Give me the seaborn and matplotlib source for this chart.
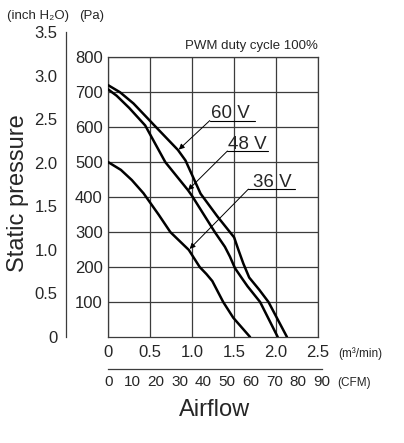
import numpy as np
import pandas as pd
import matplotlib.pyplot as plt
import seaborn as sns

# -- P-Q curves (airflow in m3/min, static pressure in Pa)
flow_60v = [0, 0.14, 0.30, 0.55, 0.83, 0.92, 1.10, 1.30, 1.45, 1.50, 1.55, 1.61, 1.68, 1.80, 1.91, 2.13]
pres_60v = [720, 700, 668, 605, 535, 505, 410, 345, 300, 285, 250, 210, 170, 135, 100, 0]

flow_48v = [0, 0.10, 0.25, 0.44, 0.68, 0.95, 1.00, 1.27, 1.39, 1.45, 1.51, 1.59, 1.66, 1.81, 2.02]
pres_48v = [708, 690, 655, 605, 500, 420, 403, 300, 258, 230, 197, 169, 145, 100, 0]

flow_36v = [0, 0.15, 0.28, 0.42, 0.60, 0.74, 0.96, 1.09, 1.17, 1.24, 1.37, 1.49, 1.69]
pres_36v = [500, 478, 449, 411, 350, 300, 249, 200, 180, 160, 100, 55, 0]

voltages = ["60 V", "48 V", "36 V"]

# tick labels
flow_ticks = [0, 0.5, 1.0, 1.5, 2.0, 2.5]
flow_labels = ["0", "0.5", "1.0", "1.5", "2.0", "2.5"]
pa_ticks = [100, 200, 300, 400, 500, 600, 700, 800]
inch_ticks = [0, 0.5, 1.0, 1.5, 2.0, 2.5, 3.0, 3.5]
inch_labels = ["0", "0.5", "1.0", "1.5", "2.0", "2.5", "3.0", "3.5"]
cfm_ticks = [0, 10, 20, 30, 40, 50, 60, 70, 80, 90]

PA_PER_INH2O = 249.089
CFM_PER_M3MIN = 35.3147

# callouts: (text x, text y, underline end x, arrow start (x, y), arrow tip (x, y))
callouts = {
    "60 V": (1.45, 625, 1.75, (1.21, 619), (0.84, 536)),
    "48 V": (1.66, 538, 1.90, (1.42, 532), (0.95, 420)),
    "36 V": (1.96, 429, 2.23, (1.67, 423), (0.97, 252)),
}

sns.set_style("white")
REG = ["Liberation Sans", "DejaVu Sans"]
plt.rcParams["font.family"] = REG
TICK_FS = 12

df = pd.concat([
    pd.DataFrame({"flow": f, "pressure": p, "voltage": v})
    for f, p, v in zip([flow_60v, flow_48v, flow_36v],
                       [pres_60v, pres_48v, pres_36v], voltages)
])

W, H = 404, 443
fig = plt.figure(figsize=(W / 100, H / 100), dpi=100)

# -- main grid (Pa vs m3/min)
left, bottom = 108.3 / W, (H - 337) / H
width, height = 209.7 / W, 279.7 / H
ax = fig.add_axes([left, bottom, width, height])

grid_col = "#3c3c3c"
for v in voltages:
    sns.lineplot(data=df[df["voltage"] == v], x="flow", y="pressure", sort=False,
                 color="black", lw=1.8, ax=ax, zorder=3)

ax.set_xlim(0, 2.5)
ax.set_ylim(0, 800)
ax.set_xticks(flow_ticks)
ax.set_xticklabels(flow_labels, fontsize=TICK_FS)
ax.set_yticks(pa_ticks)
ax.set_yticklabels([str(t) for t in pa_ticks], fontsize=TICK_FS)
ax.tick_params(axis="x", length=0, pad=6)
ax.tick_params(axis="y", length=2, width=0.8, color=grid_col, pad=2, direction="out")
ax.set_xlabel("")
ax.set_ylabel("")
ax.grid(True, color=grid_col, lw=0.9)
for s in ax.spines.values():
    s.set_visible(True)
    s.set_color(grid_col)
    s.set_linewidth(0.9)

# callout labels with leader lines
for label, (tx, ty, ux, start, tip) in callouts.items():
    ax.text(tx, ty, label, ha="center", va="baseline", fontsize=13.5)
    ax.plot([start[0], ux], [start[1], start[1]], color="black", lw=0.8)
    ax.annotate("", xy=tip, xytext=start,
                arrowprops=dict(arrowstyle="-|>", color="black", lw=0.7,
                                mutation_scale=8, shrinkA=0, shrinkB=0))

ax.text(1.0, 1.02, "PWM duty cycle 100%", transform=ax.transAxes,
        ha="right", va="bottom", fontsize=9.5)

# -- inch H2O scale
in_height = height * 3.5 * PA_PER_INH2O / 800
ax_in = fig.add_axes([66 / W, bottom, 0.01, in_height])
ax_in.patch.set_visible(False)
ax_in.set_ylim(0, 3.5)
ax_in.set_yticks(inch_ticks)
ax_in.set_yticklabels(inch_labels, fontsize=TICK_FS)
ax_in.set_xticks([])
ax_in.tick_params(axis="y", direction="in", length=4, width=0.8, color=grid_col, pad=6)
for name, s in ax_in.spines.items():
    s.set_visible(name == "left")
ax_in.spines["left"].set_color(grid_col)
ax_in.spines["left"].set_linewidth(0.9)

# -- CFM scale
cfm_width = width * 90 / (2.5 * CFM_PER_M3MIN)
ax_cfm = fig.add_axes([left, (H - 369) / H, cfm_width, 0.01])
ax_cfm.patch.set_visible(False)
ax_cfm.set_xlim(0, 90)
ax_cfm.set_xticks(cfm_ticks)
ax_cfm.set_xticklabels([str(t) for t in cfm_ticks], fontsize=11)
ax_cfm.set_yticks([])
ax_cfm.tick_params(axis="x", direction="in", length=3, width=0.8, color=grid_col, pad=4)
for name, s in ax_cfm.spines.items():
    s.set_visible(name == "bottom")
ax_cfm.spines["bottom"].set_color(grid_col)
ax_cfm.spines["bottom"].set_linewidth(0.9)

# -- unit and axis titles
fig.text(7 / W, 1 - 16 / H, "(inch H\u2082O)", ha="left", va="center", fontsize=9.5)
fig.text(79 / W, 1 - 16 / H, "(Pa)", ha="left", va="center", fontsize=9.5)
fig.text(338 / W, 1 - 354 / H, "(m\u00b3/min)", ha="left", va="center", fontsize=8.5)
fig.text(337 / W, 1 - 383 / H, "(CFM)", ha="left", va="center", fontsize=8.5)
fig.text(215 / W, 1 - 410 / H, "Airflow", ha="center", va="center", fontsize=17)
fig.text(18 / W, 1 - 193 / H, "Static pressure", ha="center", va="center",
         rotation=90, fontsize=17)

fig.savefig("out.png", dpi=100)
plt.close(fig)
